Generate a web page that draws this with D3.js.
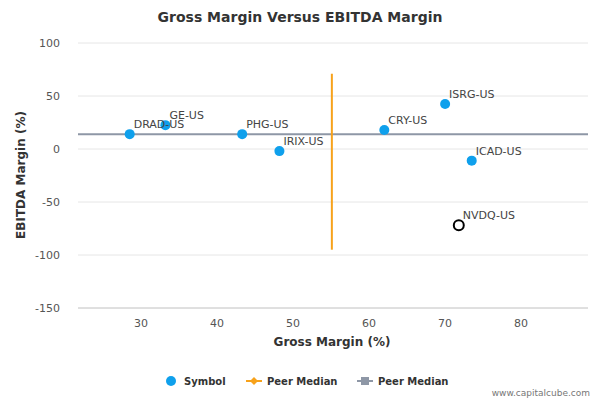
<!DOCTYPE html>
<html><head><meta charset="utf-8">
<script src="https://cdn.jsdelivr.net/npm/d3@7"></script>
<style>body{margin:0;background:#fff}text{font-family:"DejaVu Sans",sans-serif}</style>
</head><body><div id="chart"></div>
<script>
var symbols = ["DRAD-US","GE-US","PHG-US","IRIX-US","CRY-US","ISRG-US","ICAD-US","NVDQ-US"];
var grossMargin = [28.5, 33.2, 43.3, 48.2, 62.0, 70.0, 73.5, 71.8];
var ebitdaMargin = [14, 22.5, 14, -2, 18, 42.5, -11, -72];
var highlighted = ["NVDQ-US"];
var xTicks = [30, 40, 50, 60, 70, 80];
var yTicks = [100, 50, 0, -50, -100, -150];
var peerMedianX = 55.1, peerMedianY = 14;
var vLineRange = [-95, 71];

var svg = d3.select("#chart").append("svg").attr("width", 600).attr("height", 400);
var x = d3.scaleLinear().domain([21.7, 88.8]).range([78, 588]);
var y = d3.scaleLinear().domain([-150, 100]).range([308, 43]);

svg.append("text").attr("x", 300).attr("y", 22).attr("text-anchor", "middle")
    .attr("font-size", 14).attr("font-weight", "bold").attr("fill", "#333").text("Gross Margin Versus EBITDA Margin");

svg.selectAll(".grid").data(yTicks).enter().append("line")
    .attr("x1", 78).attr("x2", 588).attr("y1", d => y(d)).attr("y2", d => y(d))
    .attr("stroke", d => d === -150 ? "#c0c0c0" : "#e6e6e6");

svg.selectAll(".yt").data(yTicks).enter().append("text")
    .attr("x", 60).attr("y", d => y(d) + 4).attr("text-anchor", "end")
    .attr("font-size", 11).attr("fill", "#555").text(d => d);
svg.selectAll(".xt").data(xTicks).enter().append("text")
    .attr("x", d => x(d)).attr("y", 327).attr("text-anchor", "middle")
    .attr("font-size", 11).attr("fill", "#555").text(d => d);

svg.append("text").attr("x", 332).attr("y", 346).attr("text-anchor", "middle")
    .attr("font-size", 12).attr("font-weight", "bold").attr("fill", "#333").text("Gross Margin (%)");
svg.append("text").attr("transform", "translate(25,175) rotate(-90)").attr("text-anchor", "middle")
    .attr("font-size", 12).attr("font-weight", "bold").attr("fill", "#333").text("EBITDA Margin (%)");

svg.append("line").attr("x1", 78).attr("x2", 588).attr("y1", y(peerMedianY)).attr("y2", y(peerMedianY))
    .attr("stroke", "#8e97a6").attr("stroke-width", 2);
svg.append("line").attr("x1", x(peerMedianX)).attr("x2", x(peerMedianX))
    .attr("y1", y(vLineRange[0])).attr("y2", y(vLineRange[1]))
    .attr("stroke", "#f7a21b").attr("stroke-width", 2);

var pts = symbols.map((s, i) => ({s: s, gx: grossMargin[i], ey: ebitdaMargin[i]}));
svg.selectAll(".pt").data(pts).enter().append("circle")
    .attr("cx", d => x(d.gx)).attr("cy", d => y(d.ey)).attr("r", 5)
    .attr("fill", d => highlighted.includes(d.s) ? "#fff" : "#0fa0ec")
    .attr("stroke", d => highlighted.includes(d.s) ? "#000" : "none").attr("stroke-width", 2);
svg.selectAll(".lb").data(pts).enter().append("text")
    .attr("x", d => x(d.gx) + 4).attr("y", d => y(d.ey) - 6)
    .attr("font-size", 11).attr("fill", "#444").text(d => d.s);

var lg = svg.append("g").attr("font-size", 10).attr("font-weight", "bold").attr("fill", "#333");
lg.append("circle").attr("cx", 171).attr("cy", 381).attr("r", 5).attr("fill", "#0fa0ec");
lg.append("text").attr("x", 184).attr("y", 385).text("Symbol");
lg.append("line").attr("x1", 246).attr("x2", 262).attr("y1", 381).attr("y2", 381).attr("stroke", "#f7a21b").attr("stroke-width", 2);
lg.append("path").attr("d", "M254,377L258,381L254,385L250,381Z").attr("fill", "#f7a21b");
lg.append("text").attr("x", 267).attr("y", 385).text("Peer Median");
lg.append("line").attr("x1", 357).attr("x2", 373).attr("y1", 381).attr("y2", 381).attr("stroke", "#8e97a6").attr("stroke-width", 2);
lg.append("rect").attr("x", 361).attr("y", 377).attr("width", 8).attr("height", 8).attr("fill", "#8e97a6");
lg.append("text").attr("x", 378).attr("y", 385).text("Peer Median");

svg.append("text").attr("x", 590).attr("y", 396).attr("text-anchor", "end")
    .attr("font-size", 9).attr("fill", "#777").text("www.capitalcube.com");
</script></body></html>
